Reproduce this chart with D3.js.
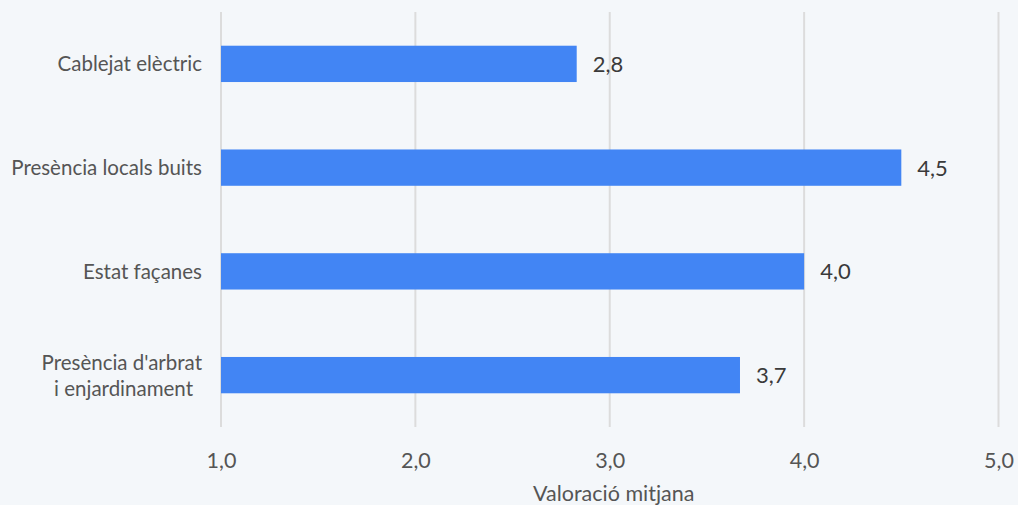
<!DOCTYPE html>
<html>
<head>
<meta charset="utf-8">
<script src="https://cdn.jsdelivr.net/npm/d3@7"></script>
<style>
  html, body { margin: 0; padding: 0; background: #f4f7fa; }
  svg { display: block; font-family: Lato, "Open Sans", sans-serif; }
</style>
</head>
<body>
<svg id="chart" width="1018" height="505"></svg>
<script>
// Average rating per aspect (scale 1 to 5)
const categories = ["Cablejat elèctric", "Presència locals buits", "Estat façanes", "Presència d'arbrat\ni enjardinament"];
const values = [2.83, 4.5, 4.0, 3.67];
const ticks = [1, 2, 3, 4, 5];
const axisTitle = "Valoració mitjana";

const width = 1018, height = 505;
const margin = { top: 12, right: 20, bottom: 78, left: 221 };

const svg = d3.select("#chart");
const comma = v => d3.format(".1f")(v).replace(".", ",");

const x = d3.scaleLinear().domain([1, 5]).range([margin.left, 998.5]);
const y = d3.scaleBand().domain(categories)
  .range([margin.top, height - margin.bottom])
  .paddingInner(0.65).paddingOuter(0.325);

// vertical gridlines
svg.append("g").selectAll("line").data(ticks).join("line")
  .attr("x1", d => x(d)).attr("x2", d => x(d))
  .attr("y1", margin.top).attr("y2", height - margin.bottom)
  .attr("stroke", "#dcdcdc").attr("stroke-width", 2);

// x axis tick labels
const xAxis = d3.axisBottom(x).tickValues(ticks).tickFormat(comma).tickSize(0).tickPadding(0);
const gx = svg.append("g").attr("transform", `translate(0,${height - margin.bottom + 41})`).call(xAxis);
gx.select(".domain").remove();
gx.selectAll("text").attr("font-size", 21.5).attr("fill", "#555").attr("font-family", "Lato, sans-serif")
  .attr("dy", 0);

// axis title
svg.append("text").attr("x", x(3) + 4).attr("y", 501)
  .attr("text-anchor", "middle").attr("font-size", 21.5).attr("fill", "#555")
  .text(axisTitle);

// bars
svg.append("g").selectAll("rect").data(values).join("rect")
  .attr("x", x(1)).attr("y", (d, i) => y(categories[i]))
  .attr("width", d => x(d) - x(1)).attr("height", y.bandwidth())
  .attr("fill", "#4285f4");

// value labels
svg.append("g").selectAll("text").data(values).join("text")
  .attr("x", d => x(d) + 16)
  .attr("y", (d, i) => y(categories[i]) + y.bandwidth() / 2)
  .attr("dy", "0.36em").attr("font-size", 22).attr("fill", "#3a3a3a")
  .text(comma);

// category labels (multi-line where needed)
const gy = svg.append("g");
categories.forEach(c => {
  const lines = c.split("\n");
  const cy = y(c) + y.bandwidth() / 2;
  const lh = 26;
  const t = gy.append("text").attr("text-anchor", "end").attr("font-size", 20.5).attr("fill", "#555");
  lines.forEach((ln, j) => {
    t.append("tspan").attr("x", 202)
      .attr("dx", j > 0 ? -9 : 0)
      .attr("y", cy + (j - (lines.length - 1) / 2) * lh)
      .attr("dy", "0.36em").text(ln);
  });
});
</script>
</body>
</html>
